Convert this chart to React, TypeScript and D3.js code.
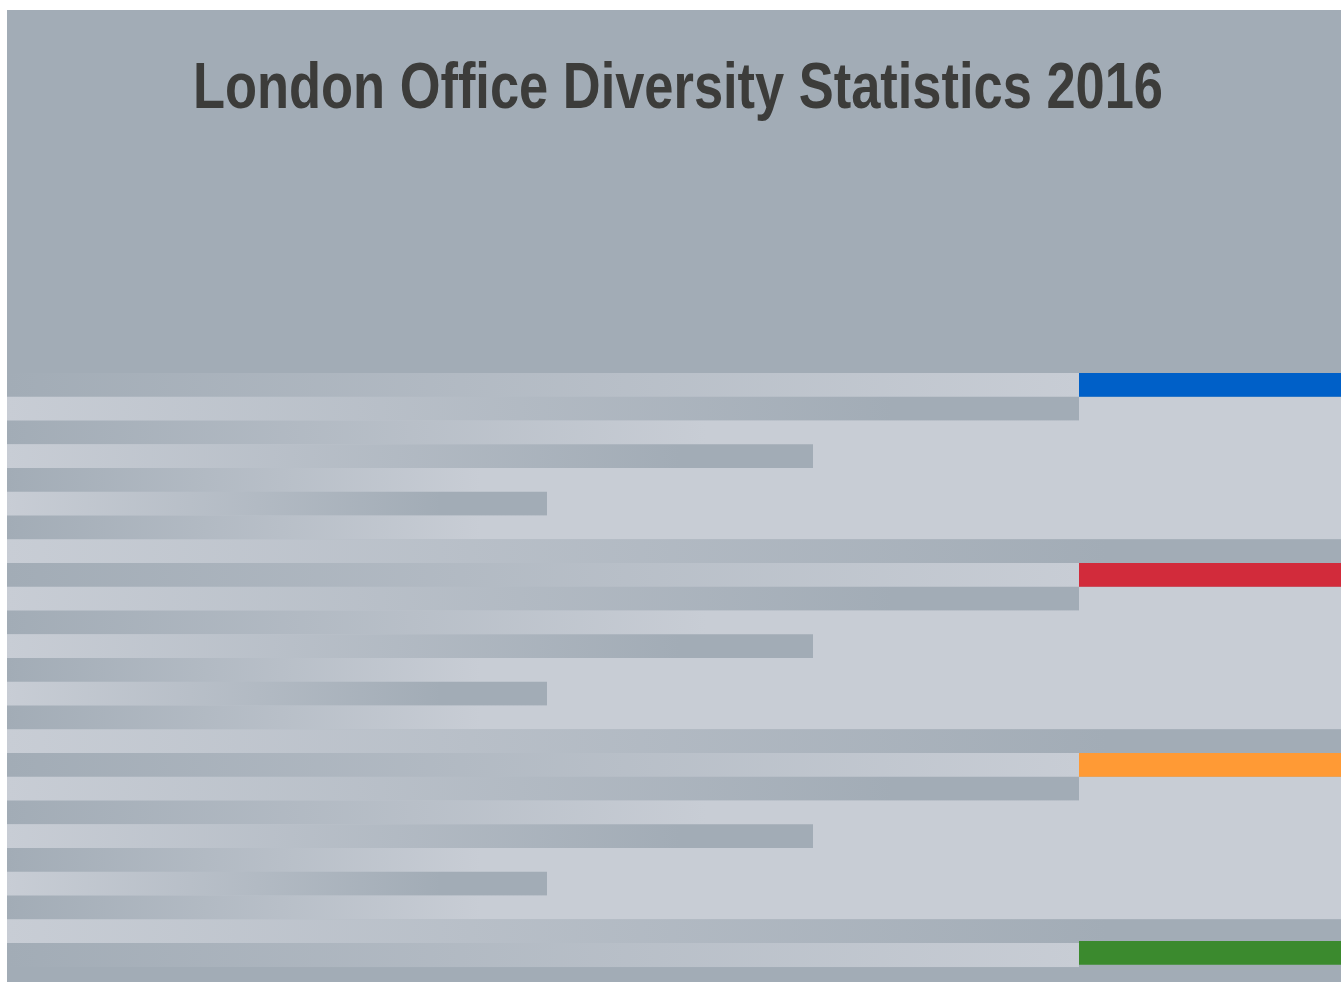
import React from "react";
import * as d3 from "d3";

// ---- data ----
const title = "London Office Diversity Statistics 2016";
const groupNames = ["Group 1", "Group 2", "Group 3", "Group 4"];
const groupColors = ["#0060c8", "#d22b3b", "#ff9a35", "#3b8a2e"];
const headlineValues = [80, 80, 80, 80];
// rows inside each group (value = bar length, reach = where the gradient ends)
const rowKinds = ["head", "bar", "fill", "bar", "fill", "bar", "fill", "bar"];
const rowValues = [80, 80, 100, 60, 100, 40, 100, 100];
const rowReach = [80, 66, 52, 50, 35, 32, 35, 82];
const rowGradient = ["dl", "ld", "dl", "ld", "dl", "ld", "dl", "ld"];
const rowsShownPerGroup = [8, 8, 8, 1];

const W = 1341;
const H = 982;
const DARK = "#a2acb6";
const LIGHT = "#c8cdd5";

export default function App() {
  const x = d3.scaleLinear().domain([0, 100]).range([15, 1345]);
  const rowIds: string[] = [];
  groupNames.forEach((g, gi) => rowKinds.forEach((_, ri) => rowIds.push(`${gi}-${ri}`)));
  const y = d3.scaleBand<string>().domain(rowIds).range([373, 373 + rowIds.length * 23.75]).paddingInner(0);
  const bw = y.bandwidth();

  const marks: React.ReactNode[] = [];
  const defs: React.ReactNode[] = [];

  groupNames.forEach((g, gi) => {
    const shown = rowsShownPerGroup[gi];
    // light panel behind detail rows
    if (shown > 1) {
      const y0 = y(`${gi}-1`)!;
      const y1 = y(`${gi}-6`)! + bw;
      marks.push(<rect key={`panel-${gi}`} x={7} y={y0} width={W - 7} height={y1 - y0} fill={LIGHT} />);
    }
    for (let ri = 0; ri < shown; ri++) {
      const id = `g${gi}r${ri}`;
      const dl = rowGradient[ri] === "dl";
      defs.push(
        <linearGradient key={id} id={id} gradientUnits="userSpaceOnUse" x1={7} x2={x(rowReach[ri])} y1={0} y2={0}>
          <stop offset="0" stopColor={dl ? DARK : LIGHT} />
          <stop offset="1" stopColor={dl ? LIGHT : DARK} />
        </linearGradient>
      );
      const yy = y(`${gi}-${ri}`)!;
      const xEnd = Math.min(W, x(rowValues[ri]));
      marks.push(<rect key={id} x={7} y={yy} width={xEnd - 7} height={bw + 0.3} fill={`url(#${id})`} />);
      if (rowKinds[ri] === "head") {
        const off = gi === 3 ? -2 : 0;
        marks.push(
          <rect
            key={`c-${gi}`}
            x={x(headlineValues[gi])}
            y={yy + off}
            width={W - x(headlineValues[gi])}
            height={bw}
            fill={groupColors[gi]}
          />
        );
      }
    }
  });

  return (
    <svg width={W} height={H} style={{ position: "absolute", left: 0, top: 0, display: "block" }}>
      <defs>{defs}</defs>
      <rect x={7} y={10} width={W - 7} height={H - 10} fill={DARK} />
      {marks}
      <text
        x={193}
        y={108}
        textLength={970}
        lengthAdjust="spacingAndGlyphs"
        fontFamily="'Liberation Sans Narrow', 'Arial Narrow', 'Liberation Sans', Arial, sans-serif"
        fontWeight="bold"
        fontSize={64}
        fill="#3c3c3a"
      >
        {title}
      </text>
    </svg>
  );
}
